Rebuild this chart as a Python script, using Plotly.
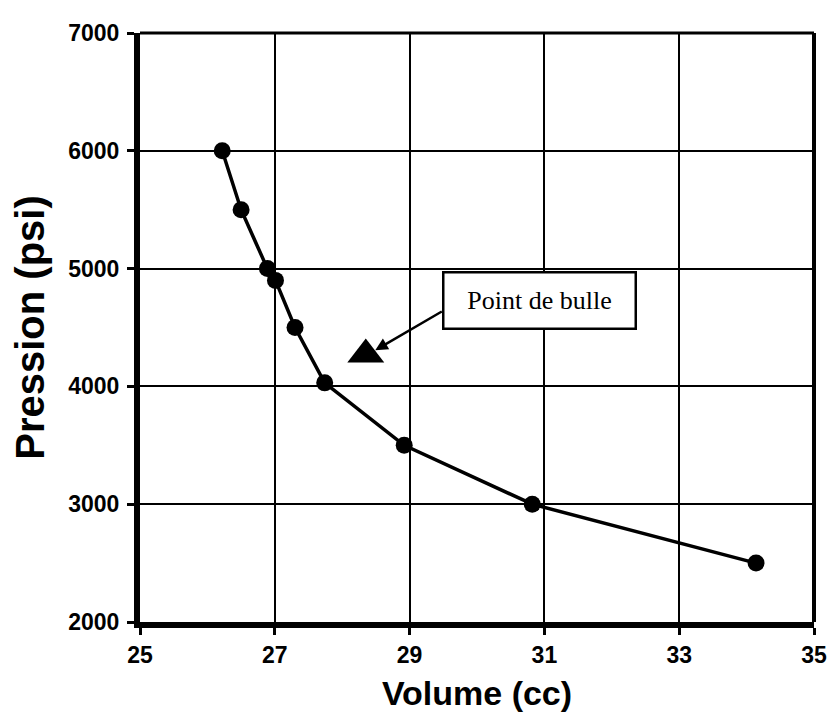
import plotly.graph_objects as go

volume_cc = [26.22, 26.50, 26.89, 27.01, 27.30, 27.74, 28.92, 30.82, 34.14]
pression_psi = [6000, 5500, 5000, 4900, 4500, 4030, 3500, 3000, 2500]
bubble_volume = [28.35]
bubble_pression = [4270]
x_ticks = [25, 27, 29, 31, 33, 35]
y_ticks = [2000, 3000, 4000, 5000, 6000, 7000]

fig = go.Figure()
fig.add_trace(go.Scatter(
    x=volume_cc, y=pression_psi, mode="lines+markers",
    line=dict(color="black", width=3.5),
    marker=dict(color="black", size=17, symbol="circle"),
    showlegend=False, cliponaxis=False,
))
fig.add_trace(go.Scatter(
    x=bubble_volume, y=bubble_pression, mode="markers",
    marker=dict(color="black", size=32, symbol="triangle-up"),
    showlegend=False,
))

# Arrow from label to bubble point
fig.add_annotation(
    x=28.49, y=4307, ax=29.5, ay=4643, axref="x", ayref="y",
    xref="x", yref="y", text="", showarrow=True,
    arrowhead=2, arrowsize=1, arrowwidth=2.5, arrowcolor="black",
)
fig.add_annotation(
    x=30.93, y=4731, xref="x", yref="y", text="Point de bulle",
    showarrow=False, font=dict(family="Liberation Serif", size=26, color="black"),
    bgcolor="white", bordercolor="black", borderwidth=2.5,
    width=188, height=52, align="center",
)

# top and right frame lines
fig.add_shape(type="line", xref="paper", yref="paper", x0=0, x1=1, y0=1, y1=1,
              line=dict(color="black", width=3))
fig.add_shape(type="line", xref="paper", yref="paper", x0=1, x1=1, y0=0, y1=1,
              line=dict(color="black", width=4))

axis_font = dict(family="Liberation Sans", size=23, color="black", weight="bold")
fig.update_xaxes(
    range=[25, 35], tickvals=x_ticks, ticktext=[str(v) for v in x_ticks],
    showgrid=True, gridcolor="black", gridwidth=1.5,
    showline=True, linecolor="black", linewidth=6,
    ticks="outside", ticklen=7, tickwidth=3, tickcolor="black",
    tickfont=axis_font, zeroline=False,
    title=dict(text="Volume (cc)", font=dict(family="Liberation Sans", size=34, color="black", weight="bold"), standoff=17),
)
fig.update_yaxes(
    range=[2000, 7000], tickvals=y_ticks, ticktext=[str(v) for v in y_ticks],
    showgrid=True, gridcolor="black", gridwidth=1.5,
    showline=True, linecolor="black", linewidth=6,
    ticks="outside", ticklen=7, tickwidth=3, tickcolor="black",
    tickfont=axis_font, zeroline=False, ticklabelstandoff=3,
    title=dict(text="Pression (psi)", font=dict(family="Liberation Sans", size=40, color="black", weight="bold"), standoff=16),
)
fig.update_layout(
    width=831, height=713,
    margin=dict(l=132, r=19, t=18, b=99),
    plot_bgcolor="white", paper_bgcolor="white",
)
fig.write_html("out.html")
